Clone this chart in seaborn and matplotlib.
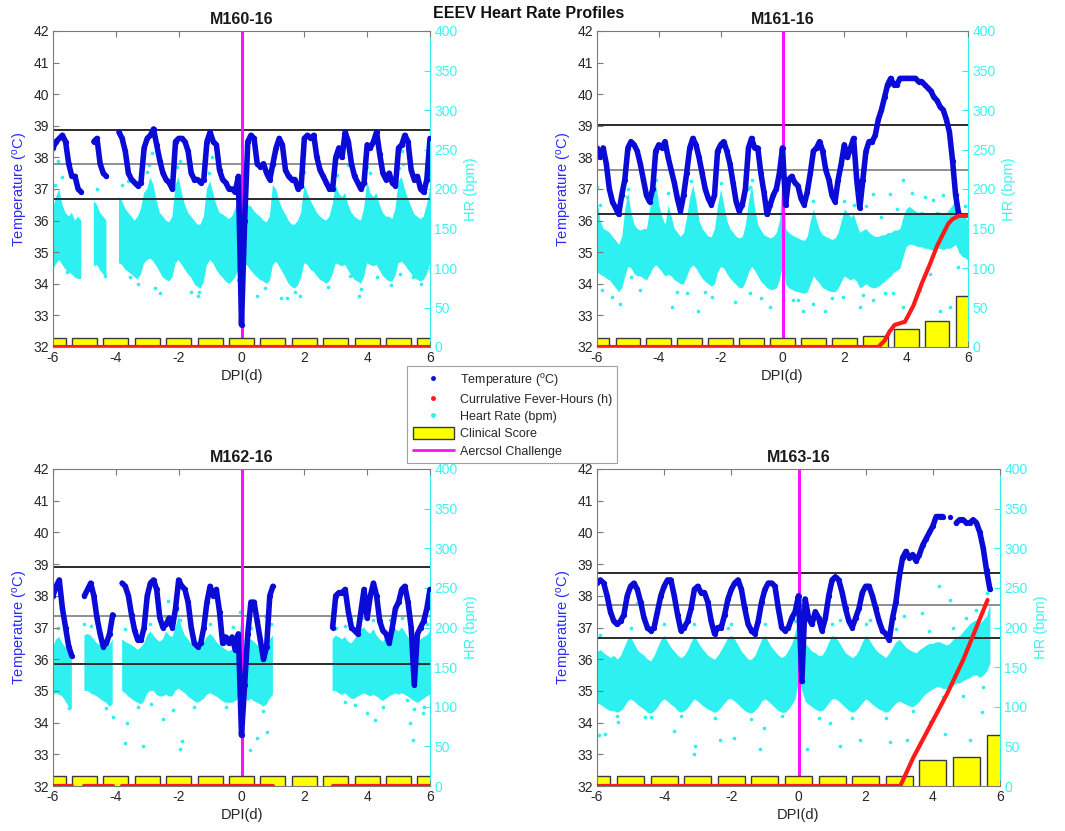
import numpy as np
import pandas as pd
import matplotlib
matplotlib.use("Agg")
import matplotlib.pyplot as plt
import seaborn as sns
from matplotlib.lines import Line2D
from matplotlib.patches import Patch

nan = np.nan

# ---------------- data ----------------
# sampling grid of the telemetry traces (days post infection, 0.1 d step)
dpi_days = np.arange(-60, 61) / 10.0
score_days = [-6, -5, -4, -3, -2, -1, 0, 1, 2, 3, 4, 5, 6]
animals = ["M160-16", "M161-16", "M162-16", "M163-16"]

temp_m160 = [38.3, 38.5, 38.6, 38.7, 38.5, 37.8, 37.4, 37.4, 37.0, 36.9,
             nan, nan, nan, 38.5, 38.6, 37.8, 37.5, 37.4, nan, nan,
             nan, 38.8, 38.6, 38.2, 37.5, 37.3, 37.2, 37.1, 37.2, 38.3,
             38.6, 38.7, 38.9, 38.4, 37.9, 37.5, 37.3, 37.2, 37.0, 38.5,
             38.6, 38.6, 38.5, 38.2, 37.5, 37.3, 37.3, 37.2, 37.3, 38.5,
             38.8, 38.5, 38.4, 37.6, 37.3, 37.2, 37.0, 37.0, 36.9, 37.4,
             32.7,
             36.0, 38.5, 38.7, 38.6, 37.8, 37.7, 37.8, 37.5, 37.3, 37.8,
             38.3, 38.6, 38.4, 37.6, 37.4, 37.3, 37.3, 37.0, 37.1, 38.6,
             38.7, 38.6, 38.7, 38.0, 37.6, 37.4, 37.2, 37.0, 37.0, 38.0,
             38.3, 38.0, 38.8, 38.5, 37.8, 37.4, 37.2, 37.0, 37.2, 38.4,
             38.3, 38.5, 38.8, 38.1, 37.5, 37.3, 37.5, 37.2, 37.1, 38.3,
             38.4, 38.7, 38.5, 37.6, 37.3, 37.4, 37.0, 36.9, 37.3, 38.6]
hr_lo_m160 = [98, 105, 110, 104, 98, 95, 92, 88, 86, 86,
              nan, nan, nan, 102, 104, 97, 92, 88, nan, nan,
              nan, 106, 104, 98, 95, 92, 88, 86, 92, 106,
              110, 112, 108, 102, 95, 88, 85, 83, 88, 106,
              110, 104, 98, 92, 88, 80, 76, 74, 82, 104,
              110, 106, 98, 92, 88, 83, 80, 83, 88, 98,
              125,
              106, 102, 97, 92, 88, 85, 83, 80, 83, 104,
              108, 102, 95, 88, 80, 76, 74, 78, 88, 106,
              104, 98, 95, 90, 85, 83, 80, 83, 92, 106,
              104, 102, 104, 97, 90, 85, 83, 80, 88, 106,
              104, 102, 104, 97, 90, 86, 83, 83, 90, 106,
              108, 104, 98, 93, 88, 85, 83, 85, 92, 106]
hr_hi_m160 = [175, 190, 200, 180, 170, 165, 170, 160, 165, 160,
              nan, nan, nan, 185, 180, 170, 165, 160, nan, nan,
              nan, 190, 185, 175, 170, 165, 160, 165, 175, 195,
              200, 215, 205, 185, 170, 165, 160, 158, 165, 205,
              215, 195, 180, 170, 165, 160, 155, 155, 165, 200,
              210, 195, 180, 170, 168, 165, 162, 165, 175, 185,
              230,
              175, 180, 178, 172, 168, 165, 160, 158, 165, 205,
              200, 185, 175, 168, 160, 155, 155, 160, 170, 205,
              195, 185, 178, 170, 165, 162, 160, 165, 180, 205,
              195, 190, 195, 180, 170, 165, 162, 160, 175, 210,
              195, 190, 195, 180, 170, 165, 165, 162, 175, 210,
              215, 200, 188, 178, 168, 165, 162, 165, 180, 200]
hr_out_x_m160 = [-5.85, -5.55, -4.35, -3.6, -3.55, -2.85, -2.75, -2.6, -1.4, -1.35,
                 -0.95, -0.1, 0.02, 0.5, 1.0, 1.25, 1.45, 1.85, 2.6, 3.4,
                 3.45, 3.75, 3.95, 4.3, 5.05, 5.1, 5.45,
                 -5.95, -5.7, -4.6, -3.8, -3.0, -2.95, -2.05, -1.95, -1.05, -0.05,
                 0.95, 1.05, 2.0, 2.95, 3.05, 4.0, 4.1, 5.0, 5.15, 5.95,
                 -3.3, -1.6, 0.75, 1.7, 2.75, 3.8, 4.75, 5.7]
hr_out_y_m160 = [235, 95, 90, 210, 88, 245, 75, 68, 65, 70,
                 240, 85, 255, 65, 242, 62, 62, 65, 90, 230,
                 90, 65, 240, 88, 92, 248, 88,
                 205, 215, 200, 205, 222, 230, 228, 235, 220, 215,
                 225, 230, 222, 225, 218, 228, 220, 226, 232, 215,
                 80, 70, 75, 70, 76, 74, 78, 80]
fever_x_m160 = [-6.0, 6.0]
fever_y_m160 = [32.0, 32.0]
score_m160 = [32.3, 32.3, 32.3, 32.3, 32.3, 32.3, 32.3, 32.3, 32.3, 32.3, 32.3, 32.3, 32.3]
thr_m160 = [38.87, 37.78, 36.69]

temp_m161 = [38.3, 38.0, 38.3, 37.8, 37.0, 36.6, 36.4, 36.2, 36.8, 37.3,
             38.3, 38.5, 38.4, 38.2, 37.8, 37.3, 36.8, 36.6, 37.0, 38.2,
             38.4, 38.3, 38.5, 38.0, 37.6, 37.2, 36.7, 36.3, 36.8, 37.5,
             38.3, 38.6, 38.4, 38.0, 37.5, 37.0, 36.7, 36.5, 36.8, 38.2,
             38.4, 38.5, 38.2, 37.8, 37.2, 36.6, 36.3, 36.5, 37.0, 38.3,
             38.6, 38.3, 38.3, 37.5, 36.9, 36.2, 36.5, 36.8, 37.0, 37.5,
             38.3,
             36.5, 37.3, 37.4, 37.2, 37.1, 36.7, 36.5, 36.9, 37.5, 38.2,
             38.3, 38.5, 38.2, 37.6, 37.3, 36.8, 36.6, 37.3, 37.8, 38.4,
             38.0, 38.3, 38.6, 37.3, 36.4, 37.3, 38.2, 38.5, 38.5, 38.7,
             39.2, 39.5, 39.9, 40.3, 40.5, 40.3, 40.3, 40.5, 40.5, 40.5,
             40.5, 40.5, 40.5, 40.4, 40.4, 40.3, 40.2, 40.1, 39.9, 39.8,
             39.6, 39.5, 39.2, 38.8, 37.9, 36.8, 36.2, nan, nan, nan]
hr_lo_m161 = [95, 92, 90, 87, 85, 80, 75, 70, 75, 90,
              102, 100, 93, 90, 90, 87, 85, 92, 100, 104,
              100, 95, 90, 92, 90, 85, 83, 80, 80, 90,
              100, 104, 100, 93, 87, 83, 80, 77, 80, 95,
              102, 100, 93, 87, 83, 79, 75, 75, 83, 95,
              102, 97, 90, 83, 79, 75, 73, 73, 75, 85,
              105,
              80, 75, 73, 71, 70, 69, 68, 70, 80, 90,
              85, 80, 75, 73, 71, 70, 70, 75, 83, 90,
              87, 85, 87, 83, 75, 77, 80, 77, 75, 75,
              77, 80, 83, 87, 90, 95, 97, 100, 115, 127,
              130, 130, 128, 127, 127, 125, 125, 123, 123, 125,
              125, 123, 125, 125, 127, 130, 120, 115, 113, 110]
hr_hi_m161 = [185, 160, 150, 148, 145, 140, 135, 130, 140, 175,
              195, 170, 155, 150, 148, 150, 150, 175, 195, 205,
              180, 165, 155, 180, 165, 150, 145, 140, 145, 165,
              190, 205, 185, 160, 150, 145, 140, 140, 150, 180,
              200, 180, 160, 150, 145, 140, 138, 140, 155, 185,
              205, 175, 155, 148, 142, 140, 138, 140, 145, 160,
              220,
              150, 145, 142, 140, 138, 136, 135, 140, 160, 175,
              160, 148, 142, 140, 138, 136, 138, 145, 160, 175,
              170, 165, 168, 155, 145, 148, 150, 145, 142, 140,
              140, 142, 142, 145, 145, 148, 148, 150, 165, 175,
              178, 175, 172, 170, 172, 170, 168, 168, 170, 172,
              170, 168, 170, 175, 180, 188, 175, 168, 165, 160]
hr_out_x_m161 = [-5.84, -5.52, -5.25, -4.6, -3.58, -3.1, -2.72, -2.29, -1.53, -1.05,
                 -0.4, 0.35, 0.67, 0.99, 1.37, 1.97, 2.5, 2.94, 3.58, 3.9,
                 4.44, 5.09, 5.41, 5.84, 5.68, 4.77, 3.9, 3.47, 2.94, -1.05,
                 -6.0, -5.03, 0.0, 5.63, 4.87,
                 -5.9, -5.0, -4.2, -4.1, -3.7, -2.95, -2.0, -1.1, -1.0, 0.05,
                 1.0, 2.0, 2.3, 2.7, 3.2, 3.7, 4.2, 4.6, 5.2, 5.9,
                 -4.9, -3.4, -2.5, -0.7, 0.5, 1.6, 2.6, 3.3]
hr_out_y_m161 = [72, 63, 55, 72, 51, 68, 46, 63, 57, 68,
                 51, 59, 46, 55, 46, 63, 51, 59, 68, 51,
                 72, 46, 51, 63, 101, 93, 211, 194, 194, 203,
                 203, 190, 232, 181, 186,
                 180, 200, 205, 212, 195, 210, 208, 200, 212, 205,
                 185, 185, 180, 178, 165, 175, 195, 190, 192, 178,
                 88, 70, 70, 62, 60, 62, 66, 68]
fever_x_m161 = [-6.0, 3.1, 3.3, 3.47, 3.63, 3.96, 4.23, 4.5, 4.76, 5.0, 5.36, 5.5, 5.7, 6.0]
fever_y_m161 = [32.0, 32.0, 32.2, 32.5, 32.7, 32.8, 33.3, 34.0, 34.6, 35.2, 35.9, 36.05, 36.15, 36.15]
score_m161 = [32.3, 32.3, 32.3, 32.3, 32.3, 32.3, 32.3, 32.3, 32.3, 32.35, 32.56, 32.82, 33.6]
thr_m161 = [39.04, 37.61, 36.21]

temp_m162 = [38.0, 38.3, 38.5, 37.6, 37.0, 36.4, 36.1, nan, nan, nan,
             38.0, 38.2, 38.4, 38.0, 37.3, 36.8, 36.4, 36.5, 36.8, 37.4,
             nan, nan, 38.4, 38.3, 38.0, 37.4, 36.9, 36.6, 36.6, 37.0,
             38.0, 38.4, 38.5, 38.2, 37.3, 37.0, 37.1, 37.3, 37.0, 37.6,
             38.5, 38.3, 38.2, 37.8, 37.0, 36.5, 36.4, 36.5, 37.0, 37.8,
             38.3, 38.0, 38.2, 37.5, 36.5, 36.7, 36.5, 36.7, 36.3, 36.8,
             33.6,
             35.2, 36.8, 37.8, 37.8, 37.2, 36.6, 36.0, 36.4, 38.0, 38.3,
             nan, nan, nan, nan, nan, nan, nan, nan, nan, nan,
             nan, nan, nan, nan, nan, nan, nan, nan, 37.0, 38.0,
             38.1, 38.1, 38.2, 37.5, 37.0, 36.9, 36.8, 37.5, 38.2, 37.3,
             38.0, 38.4, 38.0, 37.2, 36.9, 36.8, 36.5, 37.0, 37.6, 37.8,
             38.2, 38.3, 37.8, 37.0, 35.2, 36.8, 37.0, 37.2, 37.6, 38.2]
hr_lo_m162 = [115, 117, 115, 113, 107, 100, 97, nan, nan, nan,
              120, 120, 117, 115, 113, 110, 107, 105, 100, 103,
              nan, nan, 120, 117, 113, 110, 107, 105, 103, 107,
              117, 120, 120, 115, 113, 113, 115, 113, 113, 120,
              123, 120, 117, 113, 110, 107, 105, 107, 110, 115,
              117, 115, 113, 110, 107, 105, 105, 105, 107, 110,
              125,
              113, 107, 110, 107, 105, 103, 100, 103, 110, 115,
              nan, nan, nan, nan, nan, nan, nan, nan, nan, nan,
              nan, nan, nan, nan, nan, nan, nan, nan, 120, 120,
              117, 115, 117, 113, 110, 110, 113, 115, 117, 115,
              113, 115, 113, 110, 107, 110, 113, 115, 117, 115,
              117, 115, 113, 110, 107, 105, 107, 110, 113, 115]
hr_hi_m162 = [175, 185, 188, 180, 175, 170, 165, nan, nan, nan,
              190, 192, 190, 185, 180, 178, 180, 175, 178, 185,
              nan, nan, 185, 182, 180, 178, 175, 172, 175, 180,
              190, 195, 190, 185, 182, 185, 195, 190, 188, 200,
              215, 200, 190, 185, 180, 178, 175, 178, 182, 188,
              192, 188, 182, 178, 175, 172, 170, 172, 175, 180,
              210,
              180, 182, 185, 182, 178, 175, 172, 178, 185, 190,
              nan, nan, nan, nan, nan, nan, nan, nan, nan, nan,
              nan, nan, nan, nan, nan, nan, nan, nan, 185, 190,
              188, 185, 188, 182, 180, 185, 192, 198, 200, 195,
              192, 198, 190, 185, 182, 188, 192, 195, 198, 195,
              200, 195, 188, 182, 180, 182, 185, 188, 190, 195]
hr_out_x_m162 = [-3.72, -3.15, -1.96, -1.88, -4.09, -3.66, -2.87, -2.5, -2.18, 0.27,
                 0.48, 0.8, 3.29, 3.98, 4.25, 5.36, 5.47, 5.79, 5.26, -2.34,
                 -1.96, 3.49, 4.72, 0.75, -0.27,
                 -5.85, -5.0, -4.8, -3.7, -2.9, -2.45, -2.05, -1.0, -0.05, 0.3,
                 0.95, 3.0, 3.3, 3.85, 4.2, 4.85, 5.1, 5.9,
                 -5.5, -4.3, -3.3, -1.5, -0.5, 0.7, 3.6, 4.5, 5.5, 5.8]
hr_out_y_m162 = [54, 51, 47, 57, 87, 80, 104, 85, 96, 45,
                 60, 68, 106, 92, 83, 79, 58, 92, 109, 233,
                 210, 212, 210, 214, 201,
                 200, 205, 202, 198, 205, 215, 222, 205, 220, 200,
                 205, 200, 202, 212, 210, 210, 212, 205,
                 98, 98, 100, 100, 100, 95, 102, 100, 97, 100]
fever_x_m162 = [-6.0, -5.4, nan, -5.0, -4.1, nan, -3.8, 1.0, nan, 2.9, 6.0]
fever_y_m162 = [32.0, 32.0, nan, 32.0, 32.0, nan, 32.0, 32.0, nan, 32.0, 32.0]
score_m162 = [32.3, 32.3, 32.3, 32.3, 32.3, 32.3, 32.3, 32.3, 32.3, 32.3, 32.3, 32.3, 32.3]
thr_m162 = [38.91, 37.35, 35.84]

temp_m163 = [38.4, 38.5, 38.4, 38.0, 37.5, 37.2, 37.1, 37.2, 37.4, 38.0,
             38.3, 38.4, 38.2, 37.8, 37.3, 37.0, 36.9, 37.0, 37.5, 38.0,
             38.3, 38.5, 38.5, 38.0, 37.4, 36.9, 37.0, 37.2, 37.6, 38.2,
             38.3, 38.1, 38.1, 37.8, 37.2, 36.8, 37.0, 37.0, 37.4, 37.9,
             38.2, 38.4, 38.5, 38.2, 37.6, 37.1, 36.9, 36.8, 37.2, 37.8,
             38.2, 38.4, 38.4, 38.3, 37.6, 37.0, 36.9, 37.0, 37.3, 37.5,
             38.0,
             35.3, 37.9, 37.3, 37.1, 37.5, 37.3, 36.9, 37.3, 38.0, 38.5,
             38.6, 38.5, 38.1, 37.6, 37.2, 37.0, 37.3, 37.6, 38.1, 38.3,
             38.3, 38.0, 37.6, 37.2, 36.9, 36.8, 36.6, 37.3, 37.8, 38.6,
             39.2, 39.4, 39.2, 39.3, 39.1, 39.3, 39.6, 39.8, 40.0, 40.2,
             40.5, 40.5, 40.5, nan, 40.5, nan, 40.3, 40.4, 40.4, 40.3,
             40.3, 40.4, 40.3, 40.0, 39.5, 38.8, 38.2, nan, nan, nan]
hr_lo_m163 = [105, 103, 100, 97, 95, 95, 93, 95, 100, 107,
              110, 107, 103, 100, 97, 93, 92, 95, 100, 107,
              110, 107, 103, 100, 95, 93, 95, 99, 105, 110,
              107, 103, 100, 97, 95, 93, 95, 100, 105, 110,
              110, 107, 103, 99, 95, 93, 92, 95, 100, 107,
              110, 107, 103, 99, 95, 93, 93, 97, 103, 110,
              135,
              120, 107, 103, 100, 97, 95, 95, 99, 105, 110,
              110, 107, 103, 99, 95, 93, 95, 100, 105, 110,
              107, 103, 100, 97, 95, 93, 95, 100, 105, 107,
              105, 103, 101, 100, 103, 107, 113, 117, 120, 123,
              125, 125, 123, 123, 125, 127, 130, 130, 133, 135,
              137, 140, 140, 137, 140, 145, 155, nan, nan, nan]
hr_hi_m163 = [170, 172, 168, 165, 162, 165, 160, 165, 175, 185,
              188, 180, 172, 168, 165, 160, 158, 165, 175, 185,
              190, 182, 175, 170, 165, 162, 165, 172, 182, 190,
              182, 175, 170, 165, 162, 160, 165, 172, 180, 188,
              190, 185, 178, 170, 165, 160, 160, 165, 175, 185,
              190, 182, 175, 170, 165, 162, 165, 172, 180, 195,
              210,
              195, 180, 175, 170, 168, 165, 165, 172, 182, 190,
              188, 182, 175, 168, 165, 162, 165, 172, 182, 190,
              185, 178, 172, 168, 165, 162, 168, 175, 182, 185,
              180, 175, 172, 170, 168, 172, 175, 178, 180, 180,
              182, 182, 180, 178, 180, 185, 188, 190, 195, 200,
              205, 208, 210, 205, 210, 215, 230, nan, nan, nan]
hr_out_x_m163 = [-5.95, -5.75, -5.36, -4.56, -3.72, -3.12, -3.07, -2.33, -1.93, -1.14,
                 -1.04, 0.25, 0.94, 1.24, 1.84, 2.73, 3.23, 3.92, 4.37, 5.11,
                 5.46, 4.91, 4.17, 4.52, 3.13, 2.13, 1.24, -4.81, 5.6, 0.0, 3.67,
                 -5.9, -5.0, -4.0, -3.1, -2.1, -2.0, -1.0, -0.1, 0.1, 1.0,
                 2.0, 2.9, 3.9, 4.6, 5.0, 5.3,
                 -5.4, -4.4, -3.5, -2.5, -1.4, -0.5, 0.6, 1.6, 2.6, 3.4, 4.3, 5.5]
hr_out_y_m163 = [64, 66, 81, 87, 70, 41, 51, 58, 60, 47,
                 73, 47, 79, 51, 58, 56, 58, 81, 66, 58,
                 94, 113, 252, 235, 214, 210, 210, 231, 243, 226, 218,
                 190, 200, 205, 205, 200, 205, 205, 208, 210, 205,
                 205, 198, 195, 200, 212, 222,
                 88, 87, 88, 86, 85, 88, 86, 86, 86, 95, 112, 125]
fever_x_m163 = [-6.0, 3.03, 3.42, 4.42, 4.9, 5.63]
fever_y_m163 = [32.0, 32.0, 32.9, 34.9, 35.97, 37.87]
score_m163 = [32.3, 32.3, 32.3, 32.3, 32.3, 32.3, 32.3, 32.3, 32.3, 32.3, 32.81, 32.9, 33.6]
thr_m163 = [38.73, 37.70, 36.66]

# ---------------- style ----------------
sns.set_style("white")
plt.rcParams['font.family'] = ['Liberation Sans', 'DejaVu Sans']
plt.rcParams['mathtext.fontset'] = 'custom'
plt.rcParams['mathtext.rm'] = 'Liberation Sans'
plt.rcParams['mathtext.it'] = 'Liberation Sans:italic'

BLUE = '#0b0bd8'
BLUE_TXT = '#2a2aff'
CYAN = '#2ff0f0'
CYAN_TXT = '#3ef2f2'
RED = '#ff1a1a'
MAGENTA = '#ff10ff'
YELLOW = '#ffff00'
SPINE = '#7a7a7a'
TXT = '#262626'

W, H = 1065.0, 831.0
rects = [
    (53 / W, 1 - 347 / H, 377 / W, 316 / H),
    (597 / W, 1 - 347 / H, 371 / W, 316 / H),
    (53 / W, 1 - 786 / H, 377 / W, 317 / H),
    (597 / W, 1 - 786 / H, 403 / W, 317 / H),
]

panels = [
    (temp_m160, hr_lo_m160, hr_hi_m160, hr_out_x_m160, hr_out_y_m160,
     fever_x_m160, fever_y_m160, score_m160, thr_m160),
    (temp_m161, hr_lo_m161, hr_hi_m161, hr_out_x_m161, hr_out_y_m161,
     fever_x_m161, fever_y_m161, score_m161, thr_m161),
    (temp_m162, hr_lo_m162, hr_hi_m162, hr_out_x_m162, hr_out_y_m162,
     fever_x_m162, fever_y_m162, score_m162, thr_m162),
    (temp_m163, hr_lo_m163, hr_hi_m163, hr_out_x_m163, hr_out_y_m163,
     fever_x_m163, fever_y_m163, score_m163, thr_m163),
]


def segments(x, y):
    x = np.asarray(x, dtype=float)
    y = np.asarray(y, dtype=float)
    bad = np.isnan(y) | np.isnan(x)
    df = pd.DataFrame({'x': x, 'y': y, 'seg': np.cumsum(bad)})
    return df[~bad]


fig = plt.figure(figsize=(10.65, 8.31), dpi=100)

for name, rect, (temp, lo, hi, ox, oy, fx, fy, score, thr) in zip(animals, rects, panels):
    ax = fig.add_axes(rect)
    ax2 = ax.twinx()
    ax.set_zorder(ax2.get_zorder() + 1)
    ax.patch.set_visible(False)

    # heart rate cloud (right axis)
    ax2.fill_between(dpi_days, np.asarray(lo, float), np.asarray(hi, float),
                     color=CYAN, linewidth=0, zorder=1)
    sns.scatterplot(x=ox, y=oy, ax=ax2, color=CYAN, s=7, linewidth=0, zorder=2)

    # thresholds
    for yv, c in zip(thr, ['#2b2b2b', '#8f8f8f', '#2b2b2b']):
        ax.axhline(yv, color=c, lw=1.4, zorder=1.5)

    # aerosol challenge
    ax.axvline(0, color=MAGENTA, lw=2.2, zorder=1.8)

    # temperature
    tdf = segments(dpi_days, temp)
    sns.lineplot(data=tdf, x='x', y='y', units='seg', estimator=None, sort=False,
                 color=BLUE, lw=4.0, marker='o', markersize=3.8,
                 markeredgewidth=0, ax=ax, zorder=2.2)

    # clinical score bars
    sns.barplot(x=score_days, y=score, native_scale=True, ax=ax, color=YELLOW,
                saturation=1, edgecolor='#3a3a3a', linewidth=1.0,
                errorbar=None, width=0.8, zorder=2.5)

    # cumulative fever hours
    fdf = segments(fx, fy)
    sns.lineplot(data=fdf, x='x', y='y', units='seg', estimator=None, sort=False,
                 color=RED, lw=3.0, ax=ax, zorder=3)

    ax.set_xlim(-6, 6)
    ax.set_ylim(32, 42)
    ax.set_xticks(range(-6, 7, 2))
    ax.set_xticklabels([str(v) for v in range(-6, 7, 2)])
    ax.set_yticks(range(32, 43))
    ax2.set_ylim(0, 400)
    ax2.set_yticks(range(0, 401, 50))

    ax.set_title(name, fontweight='bold', fontsize=11.5, pad=5, color='#1a1a1a')
    ax.set_xlabel('DPI(d)', fontsize=10.5, color=TXT, labelpad=3)
    ax.set_ylabel('Temperature ($^{\\mathrm{o}}$C)', fontsize=10.5, color=BLUE_TXT, labelpad=2)
    ax2.set_ylabel('HR (bpm)', fontsize=10.5, color=CYAN_TXT, labelpad=5)

    for s in ['left', 'top', 'bottom']:
        ax.spines[s].set_color(SPINE)
        ax.spines[s].set_linewidth(0.8)
    ax.spines['right'].set_visible(False)
    for s in ['left', 'top', 'bottom']:
        ax2.spines[s].set_visible(False)
    ax2.spines['right'].set_color(CYAN)
    ax2.spines['right'].set_linewidth(0.8)

    ax.tick_params(axis='both', direction='in', length=4, width=0.8, color=SPINE,
                   labelcolor=TXT, labelsize=10, top=True, right=False,
                   bottom=True, left=True, pad=3)
    ax2.tick_params(axis='y', direction='in', length=4, width=0.8, color=CYAN,
                    labelcolor=CYAN_TXT, labelsize=10, pad=3)
    ax2.tick_params(axis='x', bottom=False, top=False, labelbottom=False)

fig.text(529 / W, 1 - 14 / H, 'EEEV Heart Rate Profiles', ha='center', va='center',
         fontweight='bold', fontsize=11.5, color='#111111')

handles = [
    Line2D([], [], ls='none', marker='.', color=BLUE, ms=5),
    Line2D([], [], ls='none', marker='.', color=RED, ms=5),
    Line2D([], [], ls='none', marker='.', color=CYAN, ms=5),
    Patch(facecolor=YELLOW, edgecolor='#3a3a3a', linewidth=1.0),
    Line2D([], [], color=MAGENTA, lw=2),
]
labels = ['Temperature ($^{\\mathrm{o}}$C)', 'Currulative Fever-Hours (h)',
          'Heart Rate (bpm)', 'Clinical Score', 'Aercsol Challenge']
leg = fig.legend(handles, labels, loc='upper left',
                 bbox_to_anchor=(407 / W, 1 - 366 / H), frameon=True,
                 fancybox=False, edgecolor='#8a8a8a', fontsize=9,
                 handlelength=3.3, handleheight=1.1, handletextpad=0.45,
                 labelspacing=0.32, borderpad=0.45, borderaxespad=0)
leg.get_frame().set_linewidth(0.8)
for t in leg.get_texts():
    t.set_color(TXT)

fig.savefig('out.png', dpi=100)
